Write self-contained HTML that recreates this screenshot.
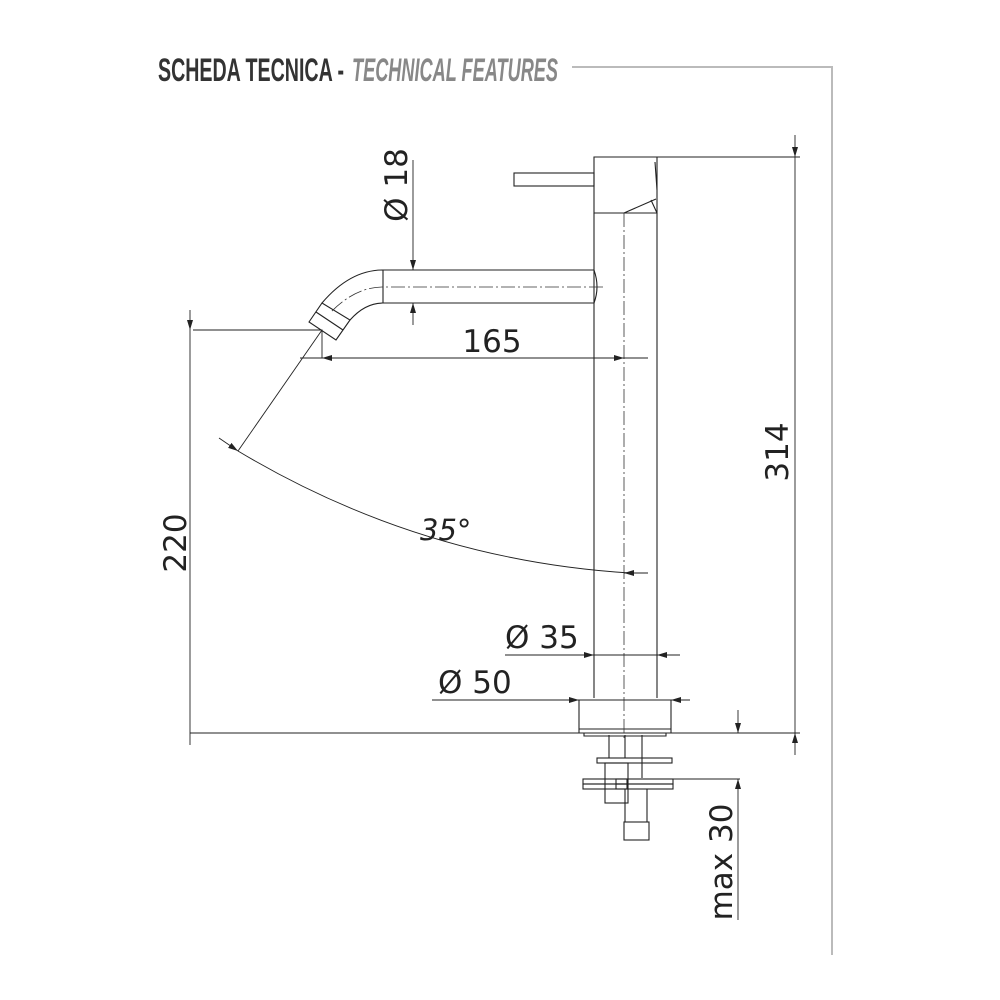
<!DOCTYPE html>
<html><head><meta charset="utf-8"><style>html,body{margin:0;padding:0;background:#fff}svg{display:block}</style></head>
<body>
<svg width="1000" height="1000" viewBox="0 0 1000 1000" xmlns="http://www.w3.org/2000/svg" font-family="DejaVu Sans, Liberation Sans, sans-serif">
<defs>
<marker id="a" viewBox="0 0 10 6" refX="10" refY="3" markerWidth="10" markerHeight="6" orient="auto-start-reverse" markerUnits="userSpaceOnUse"><path d="M0,0 L10,3 L0,6 z" fill="#222"/></marker>
</defs>
<!-- title -->
<text x="158" y="81" font-family="Liberation Sans, sans-serif" font-weight="bold" font-size="32" fill="#333" textLength="186" lengthAdjust="spacingAndGlyphs">SCHEDA TECNICA -</text>
<text x="352" y="81" font-family="Liberation Sans, sans-serif" font-weight="bold" font-style="italic" font-size="32" fill="#888" textLength="206" lengthAdjust="spacingAndGlyphs">TECHNICAL FEATURES</text>
<polyline points="572,67 832,67 832,955" fill="none" stroke="#bbb" stroke-width="2"/>
<g fill="none" stroke="#222" stroke-width="1.1">
<path d="M594,157 H657 V213 H594 Z"/>
<path d="M594,213 V698 M657,213 V698"/>
<path d="M624,213 L656,199 M651,200 L657,213 M655,162 L657,190"/>
<rect x="514" y="173" width="80" height="13"/>
<path d="M594,270 H383 Q350,270 322,303"/>
<path d="M594,303 H383 Q365,303 350,320"/>
<path d="M594,270 Q600,287 594,303"/>
<path d="M383,270 V303"/>
<path d="M309,322 L322,303 L350,320 L336,340 Z M316,312 L343,330"/>
<path d="M579,700 V729 H671 V700 M579,729 V733 H671 V729"/>
<path d="M584,733 V736 H666 V733"/>
<path d="M609,735 V758 M625,735 V758 M642,735 V778"/>
<rect x="597" y="758" width="75" height="5"/>
<rect x="605" y="763" width="23" height="40"/>
<rect x="583" y="779" width="44" height="5"/>
<rect x="583" y="784" width="44" height="5"/>
<rect x="616" y="779" width="57" height="5"/>
<rect x="616" y="784" width="57" height="5"/>
<path d="M625,789 V822 M647,789 V822"/>
<rect x="624" y="822" width="25" height="18"/>
<path d="M190,733 H800"/>
</g>
<g fill="none" stroke="#333" stroke-width="0.8" stroke-dasharray="14,3,2,3">
<path d="M624,213 V740"/>
<path d="M603,287 H383 Q355,287 330,313"/>
</g>
<g fill="none" stroke="#222" stroke-width="0.9">
<path d="M657,157 H800"/>
<path d="M795,135 V157" marker-end="url(#a)"/>
<path d="M795,157 V733" />
<path d="M795,755 V733" marker-end="url(#a)"/>
<path d="M193,330 H322 V358"/>
<path d="M190,310 V330" marker-end="url(#a)"/>
<path d="M190,330 V745"/>
<path d="M300,358 H648"/>
<path d="M340,358 H322" marker-end="url(#a)"/>
<path d="M606,358 H624" marker-end="url(#a)"/>
<path d="M413,160 V270" marker-end="url(#a)"/>
<path d="M413,325 V303" marker-end="url(#a)"/>
<path d="M322,330 L238,451"/>
<path d="M219,438 L238,451" marker-end="url(#a)"/>
<path d="M238,451 Q420,560 630,573 H648"/>
<path d="M642,573 H624" marker-end="url(#a)"/>
<path d="M505,655 H680"/>
<path d="M576,655 H594" marker-end="url(#a)"/>
<path d="M675,655 H657" marker-end="url(#a)"/>
<path d="M432,700 H690"/>
<path d="M561,700 H579" marker-end="url(#a)"/>
<path d="M689,700 H671" marker-end="url(#a)"/>
<path d="M627,779 H740"/>
<path d="M738,710 V733" marker-end="url(#a)"/>
<path d="M738,920 V779" marker-end="url(#a)"/>
<path d="M672,733 H740"/>
</g>
<g fill="#222" font-size="31">
<text x="492" y="352" text-anchor="middle">165</text>
<text transform="translate(788,452) rotate(-90)" text-anchor="middle">314</text>
<text transform="translate(186,543) rotate(-90)" text-anchor="middle">220</text>
<text transform="translate(407,185) rotate(-90)" text-anchor="middle">Ø 18</text>
<text transform="translate(732,862) rotate(-90)" text-anchor="middle">max 30</text>
<text x="505" y="648">Ø 35</text>
<text x="438" y="693">Ø 50</text>
<text x="420" y="540" font-style="italic" font-size="29">35°</text>
</g>
</svg>
</body></html>
